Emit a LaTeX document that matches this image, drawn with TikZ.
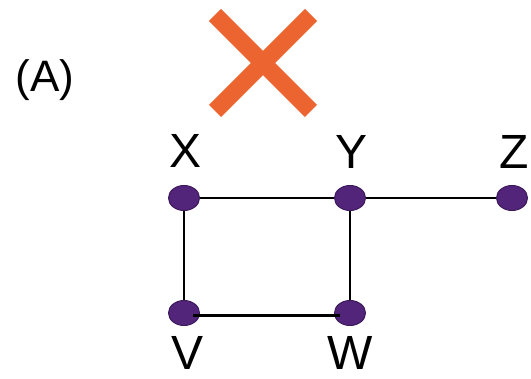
\documentclass[tikz,border=0pt]{standalone}
\usepackage{fontspec}
\setmainfont{Liberation Sans}
\usetikzlibrary{positioning, shapes.geometric, backgrounds}
\definecolor{NodeFill}{HTML}{52247A}
\definecolor{NodeLine}{HTML}{3C1A5B}
\definecolor{CrossOrange}{HTML}{EC6530}
\tikzset{
  vtx/.style={ellipse, draw=NodeLine, line width=1pt, fill=NodeFill,
    minimum width=31pt, minimum height=25pt, inner sep=0pt},
  lbl/.style={font=\fontsize{48}{50}\selectfont, inner sep=0pt},
  tag/.style={font=\fontsize{44}{46}\selectfont, inner sep=0pt},
  edge/.style={line width=2.8pt, draw=black},
  crossbar/.style={line width=17pt, draw=CrossOrange},
}

\begin{document}
\begin{tikzpicture}[x=1pt, y=-1pt]
    \useasboundingbox (0,0) rectangle (531,379);
    % vertices
    \node[vtx] (X) at (184,198) {};
    \node[vtx] (Y) at (350,198) {};
    \node[vtx] (Z) at (512,198) {};
    \node[vtx] (V) at (184,313) {};
    \node[vtx] (W) at (350,313) {};
    % labels
    \node[lbl] (lx) at (186,151) {X};
    \node[lbl] (ly) at (352,152) {Y};
    \node[lbl] (lz) at (514,152) {Z};
    \node[lbl] (lv) at (188,353) {V};
    \node[lbl] (lw) at (350,353) {W};
    \node[tag] (ta) at (45,80) {(A)};
    % edges behind the vertices
    \begin{scope}[on background layer]
      \draw[edge] (X) -- (Y);
      \draw[edge] (Y) -- (Z);
      \draw[edge] (X) -- (V);
      \draw[edge] (Y) -- (W);
    \end{scope}
    \draw[edge, shorten <=9pt, shorten >=10pt] ([yshift=-2.5pt]V.center) -- ([yshift=-2.5pt]W.center);
    % the cross
    \coordinate (cx) at (263,63);
    \draw[crossbar] ([shift={(-48,-48)}]cx) -- ([shift={(48,48)}]cx);
    \draw[crossbar] ([shift={(48,-48)}]cx) -- ([shift={(-48,48)}]cx);
  \end{tikzpicture}
\end{document}
